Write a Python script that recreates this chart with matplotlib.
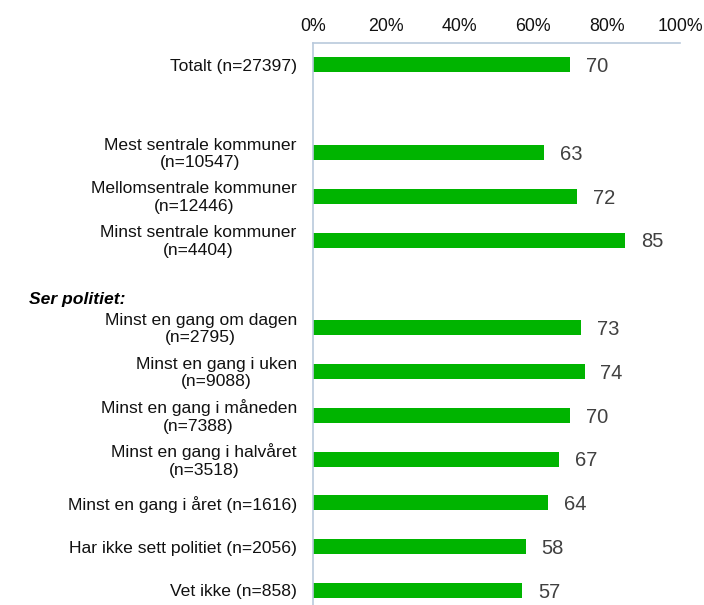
import numpy as np
import matplotlib.pyplot as plt

plt.rcParams['font.family'] = ['Liberation Sans', 'DejaVu Sans']

# rows, top to bottom; None marks an empty slot
labels = ['Totalt (n=27397)', None,
          'Mest sentrale kommuner\n(n=10547)',
          'Mellomsentrale kommuner\n(n=12446)',
          'Minst sentrale kommuner\n(n=4404)', None,
          'Minst en gang om dagen\n(n=2795)',
          'Minst en gang i uken\n(n=9088)',
          'Minst en gang i måneden\n(n=7388)',
          'Minst en gang i halvåret\n(n=3518)',
          'Minst en gang i året (n=1616)',
          'Har ikke sett politiet (n=2056)',
          'Vet ikke (n=858)']
values = [70, None, 63, 72, 85, None, 73, 74, 70, 67, 64, 58, 57]
ticks = [0, 20, 40, 60, 80, 100]
tick_labels = ['0%', '20%', '40%', '60%', '80%', '100%']
group_header = 'Ser politiet:'

green = '#00b400'
edge = '#b9c9dc'

fig = plt.figure(figsize=(7.04, 6.05), dpi=100)
ax = fig.add_axes([313/704, 0, 367/704, 1 - 43/605])

for i, (lab, v) in enumerate(zip(labels, values)):
    if v is None:
        continue
    ax.barh(i, v, height=0.34, color=green)
    ax.text(v + 4.3, i + 0.04, str(v), va='center', ha='left', fontsize=14.5, color='#404040')
    ax.text(-4.4, i + 0.03, lab, ha='right', va='center', multialignment='center',
            fontsize=12.6, linespacing=1.22, color='#111111', clip_on=False)

ax.text(-77.5, 5.35, group_header, fontsize=12.6, fontweight='bold', fontstyle='italic',
        ha='left', va='center')

ax.set_xlim(0, 100)
ax.set_ylim(12.33, -0.5)
ax.xaxis.tick_top()
ax.set_xticks(ticks)
ax.set_xticklabels(tick_labels, fontsize=12.8, color='#111111')
ax.tick_params(axis='x', length=0, pad=6)
ax.set_yticks([])
for s in ['right', 'bottom']:
    ax.spines[s].set_visible(False)
for s in ['top', 'left']:
    ax.spines[s].set_color(edge)
    ax.spines[s].set_linewidth(1.2)

fig.savefig('out.png', dpi=100)
